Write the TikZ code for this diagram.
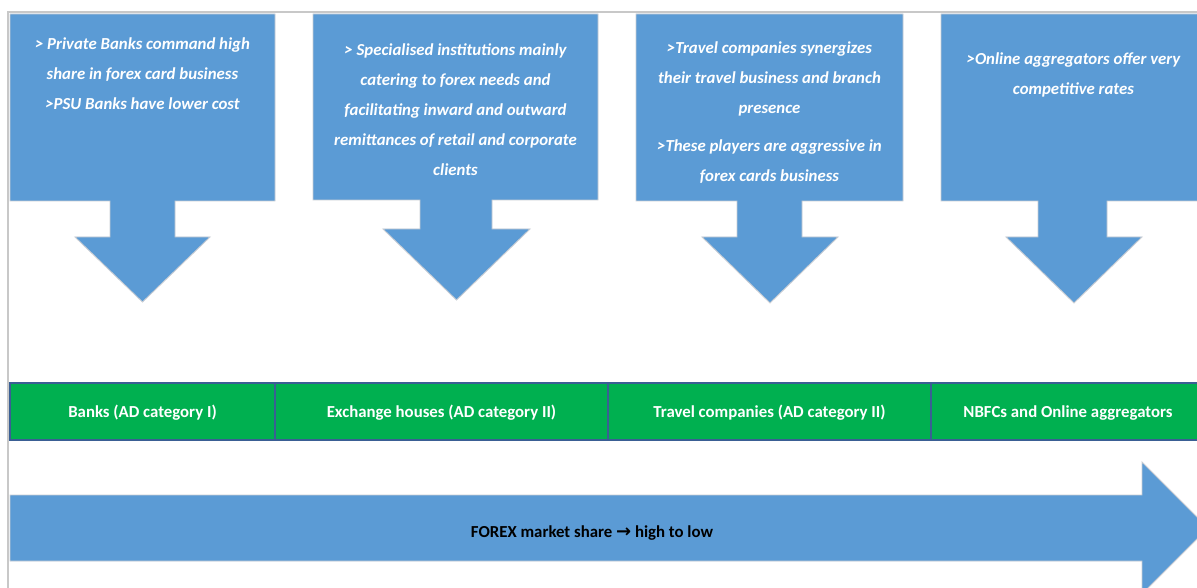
\documentclass[tikz,border=0pt]{standalone}
\usepackage{fontspec}
\setmainfont{Carlito}
\newfontfamily\symfont{DejaVu Sans}
\definecolor{calloutblue}{HTML}{5B9BD5}
\definecolor{bandgreen}{HTML}{00B050}
\definecolor{bandedge}{HTML}{3A5F94}
\definecolor{framegray}{HTML}{C8C8C8}
\definecolor{shapeedge}{HTML}{C9CDD3}
\tikzset{
  callout/.style={fill=calloutblue, draw=shapeedge, line width=0.9pt, line join=miter},
  callouttext/.style={text=white, font=\fontsize{16.8}{30}\selectfont\bfseries\itshape, align=center, inner sep=0pt, anchor=north},
  cell/.style={fill=bandgreen, draw=bandedge, line width=1.3pt, inner sep=0pt, text=white, font=\fontsize{16.8}{19}\selectfont\bfseries, text height=14pt, text depth=2pt},
  bandlabel/.style={text=black, font=\fontsize{16.8}{19}\selectfont\bfseries, inner sep=0pt},
  frame/.style={draw=framegray, line width=2pt}
}
\begin{document}
\begin{tikzpicture}[x=1pt,y=-1pt]
\useasboundingbox (0,0) rectangle (1197,588);
\clip (0,0) rectangle (1197,588);
\fill[white] (0,0) rectangle (1197,588);
% frame lines
\draw[frame] (8,588) -- (8,12) -- (1197,12);
% callout 1
\draw[callout] (10,14) -- (275,14) -- (275,201) -- (175,201) -- (175,237) -- (210,237) -- (142.5,302) -- (75,237) -- (110,237) -- (110,201) -- (10,201) -- cycle;
% callout 2
\draw[callout] (313,14) -- (598,14) -- (598,200) -- (492,200) -- (492,229) -- (530,229) -- (456.5,300) -- (383,229) -- (420,229) -- (420,200) -- (313,200) -- cycle;
% callout 3
\draw[callout] (636,14) -- (903,14) -- (903,201) -- (802,201) -- (802,237) -- (838,237) -- (770,303) -- (702,237) -- (737,237) -- (737,201) -- (636,201) -- cycle;
% callout 4
\draw[callout] (941,14) -- (1205,14) -- (1205,201) -- (1107,201) -- (1107,237) -- (1142,237) -- (1074,303) -- (1006,237) -- (1038,237) -- (1038,201) -- (941,201) -- cycle;
% callout texts
\node[callouttext] (t1) at (142.5,38) {> Private Banks command high\\share in forex card business\\>PSU Banks have lower cost};
\node[callouttext] (t2) at (455.5,44) {> Specialised institutions mainly\\catering to forex needs and\\facilitating inward and outward\\remittances of retail and corporate\\clients};
\node[callouttext] (t3) at (769.5,42) {>Travel companies synergizes\\their travel business and branch\\presence\\[8pt]>These players are aggressive in\\forex cards business};
\node[callouttext] (t4) at (1073.5,53) {>Online aggregators offer very\\competitive rates};
% green band
\node[cell, minimum width=265pt, minimum height=57pt] (c1) at (142.5,411.5) {Banks (AD category I)};
\node[cell, minimum width=333pt, minimum height=57pt] (c2) at (441.5,411.5) {Exchange houses (AD category II)};
\node[cell, minimum width=323pt, minimum height=57pt] (c3) at (769.5,411.5) {Travel companies (AD category II)};
\node[cell, minimum width=274pt, minimum height=57pt] (c4) at (1068,411.5) {NBFCs and Online aggregators};
% big arrow
\draw[callout] (10,495) -- (1142,495) -- (1142,462) -- (1208,528) -- (1142,594) -- (1142,561) -- (10,561) -- cycle;
\node[bandlabel] (share) at (592,533) {FOREX market share {\symfont\bfseries\fontsize{18}{19}\selectfont →} high to low};
\end{tikzpicture}
\end{document}
